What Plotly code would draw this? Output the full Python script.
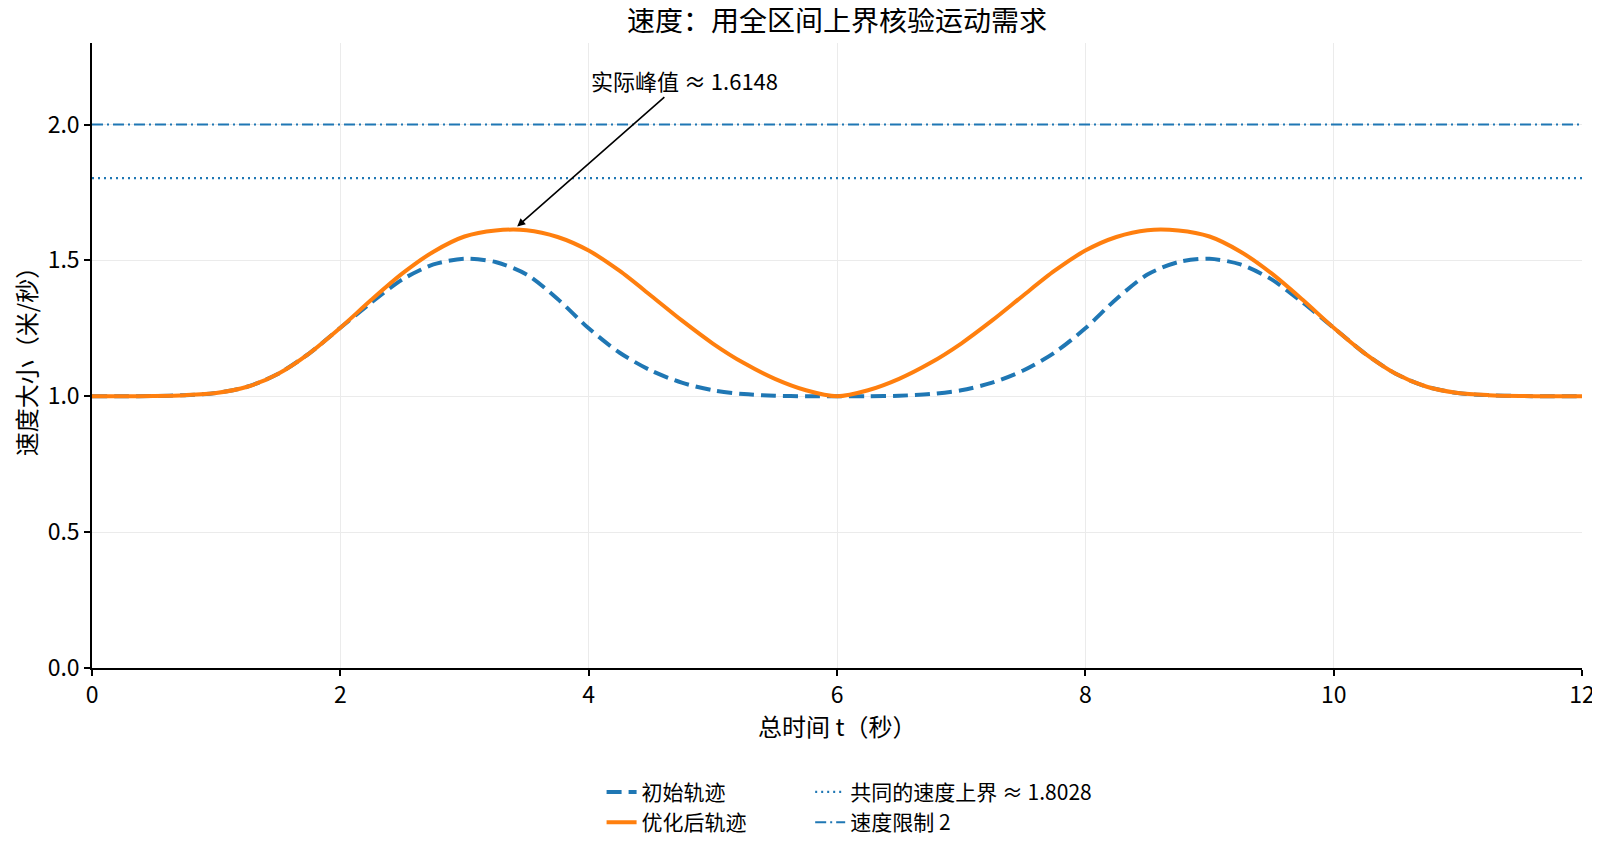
import plotly.graph_objects as go

# 时间轴（秒）
t = [0.0, 0.25, 0.5, 0.75, 1.0, 1.25, 1.5, 1.75, 2.0, 2.25, 2.5, 2.75,
     3.0, 3.25, 3.5, 3.75, 4.0, 4.25, 4.5, 4.75, 5.0, 5.25, 5.5, 5.75,
     6.0, 6.25, 6.5, 6.75, 7.0, 7.25, 7.5, 7.75, 8.0, 8.25, 8.5, 8.75,
     9.0, 9.25, 9.5, 9.75, 10.0, 10.25, 10.5, 10.75, 11.0, 11.25, 11.5, 11.75, 12.0]

# 初始轨迹速度
v_init = [1.000, 1.000, 1.001, 1.004, 1.012, 1.035, 1.083, 1.158, 1.252, 1.345, 1.430, 1.485,
          1.506, 1.494, 1.448, 1.358, 1.250, 1.160, 1.095, 1.050, 1.022, 1.008, 1.002, 1.000,
          1.000, 1.000, 1.002, 1.008, 1.022, 1.050, 1.095, 1.160, 1.250, 1.358, 1.448, 1.494,
          1.506, 1.485, 1.430, 1.345, 1.252, 1.158, 1.083, 1.035, 1.012, 1.004, 1.001, 1.000, 1.000]

# 优化后轨迹速度
v_opt = [1.000, 1.000, 1.001, 1.004, 1.012, 1.035, 1.083, 1.158, 1.252, 1.355, 1.452, 1.532,
         1.588, 1.610, 1.611, 1.586, 1.536, 1.461, 1.371, 1.279, 1.194, 1.122, 1.064, 1.022,
         1.000, 1.022, 1.064, 1.122, 1.194, 1.279, 1.371, 1.461, 1.536, 1.586, 1.611, 1.610,
         1.588, 1.532, 1.452, 1.355, 1.252, 1.158, 1.083, 1.035, 1.012, 1.004, 1.001, 1.000, 1.000]

upper_bound = 1.8028
speed_limit = 2
peak_t = 3.4
peak_v = 1.6148

font = "Noto Sans CJK SC"
blue = "#1f77b4"
orange = "#ff7f0e"

fig = go.Figure()

fig.add_trace(go.Scatter(
    x=t, y=v_init, mode="lines", name="初始轨迹", legend="legend", legendrank=1,
    line=dict(color=blue, width=4, dash="15px,7px", shape="spline", smoothing=0.8),
))
fig.add_trace(go.Scatter(
    x=t, y=v_opt, mode="lines", name="优化后轨迹", legend="legend", legendrank=2,
    line=dict(color=orange, width=4, shape="spline", smoothing=0.8),
))
fig.add_trace(go.Scatter(
    x=[0, 12], y=[upper_bound, upper_bound], mode="lines",
    name=f"共同的速度上界 ≈ {upper_bound:.4f}", legend="legend2", legendrank=1,
    line=dict(color=blue, width=2.2, dash="2px,4px"),
))
fig.add_trace(go.Scatter(
    x=[0, 12], y=[speed_limit, speed_limit], mode="lines",
    name=f"速度限制 {speed_limit}", legend="legend2", legendrank=2,
    line=dict(color=blue, width=2, dash="11px,4px,2px,4px"),
))

fig.add_annotation(
    x=peak_t, y=peak_v, ax=4.77, ay=2.165, axref="x", ayref="y",
    text=f"实际峰值 ≈ {peak_v:.4f}", showarrow=True,
    arrowhead=2, arrowsize=1, arrowwidth=1.6, arrowcolor="black", standoff=4,
    font=dict(family=font, size=22, color="black"),
)

# 标题和 x 轴标题用注释放置，便于精确控制位置
fig.add_annotation(
    x=0.5, y=1.039, xref="paper", yref="paper", xanchor="center", yanchor="middle",
    text="速度：用全区间上界核验运动需求", showarrow=False,
    font=dict(family=font, size=28, color="black"),
)
fig.add_annotation(
    x=0.5, y=-0.092, xref="paper", yref="paper", xanchor="center", yanchor="middle",
    text="总时间 t（秒）", showarrow=False,
    font=dict(family=font, size=24, color="black"),
)

axis_common = dict(
    showline=True, linecolor="black", linewidth=1.5,
    ticks="outside", ticklen=6, tickwidth=1.5, tickcolor="black",
    showgrid=True, gridcolor="#ebebeb", gridwidth=1, zeroline=False,
    tickfont=dict(family=font, size=23, color="black"),
    automargin=False,
)

fig.update_xaxes(range=[0, 12], tickvals=[0, 2, 4, 6, 8, 10, 12], **axis_common)
fig.update_yaxes(
    range=[0, 2.3], tickvals=[0, 0.5, 1.0, 1.5, 2.0], tickformat=".1f",
    title=dict(text="速度大小（米/秒）", font=dict(family=font, size=24, color="black"), standoff=21),
    **axis_common,
)

legend_common = dict(
    xanchor="left", yanchor="top", y=-0.166,
    bgcolor="rgba(0,0,0,0)", font=dict(family=font, size=21, color="black"),
    orientation="v",
)

fig.update_layout(
    width=1600, height=848,
    margin=dict(l=84, r=26, t=35, b=188),
    plot_bgcolor="white", paper_bgcolor="white",
    legend=dict(x=0.342, **legend_common),
    legend2=dict(x=0.482, **legend_common),
    font=dict(family=font),
)

fig.write_html("out.html")
